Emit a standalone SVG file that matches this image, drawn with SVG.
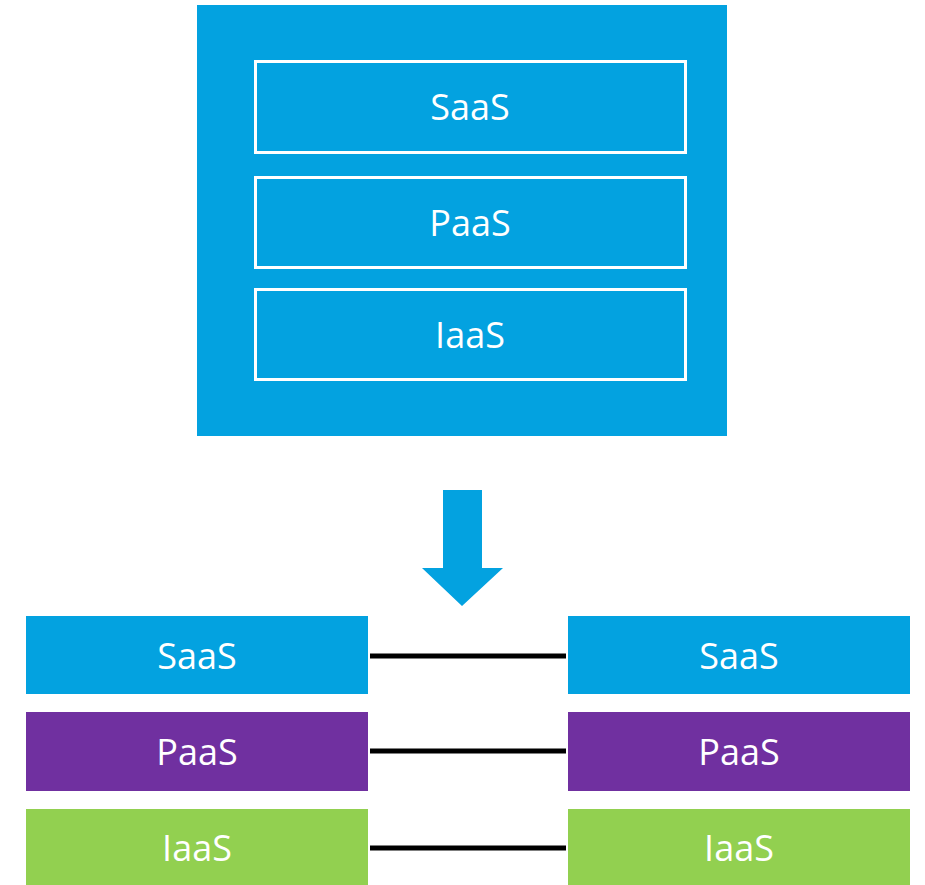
<svg xmlns="http://www.w3.org/2000/svg" width="925" height="885" viewBox="0 0 925 885">
<style>
.lbl{font-family:"Open Sans","Noto Sans",sans-serif;font-size:36px;fill:#fff;text-anchor:middle}
.inner{fill:none;stroke:#fff;stroke-width:3}
.conn{stroke:#000;stroke-width:5}
</style>
<rect width="925" height="885" fill="#fff"/>
<g id="cloud">
<rect x="197" y="5" width="530" height="431" fill="#03A2E0"/>
</g>
<g id="top-saas"><rect class="inner" x="255.5" y="61.5" width="430" height="91"/><text class="lbl" x="470" y="120">SaaS</text></g>
<g id="top-paas"><rect class="inner" x="255.5" y="177.5" width="430" height="90"/><text class="lbl" x="470" y="236">PaaS</text></g>
<g id="top-iaas"><rect class="inner" x="255.5" y="289.5" width="430" height="90"/><text class="lbl" x="470" y="348">IaaS</text></g>
<g id="arrow"><polygon points="443,490 482,490 482,568 503,568 462,606 422,568 443,568" fill="#03A2E0"/></g>
<g id="left-saas"><rect x="26" y="616" width="342" height="78" fill="#03A2E0"/><text class="lbl" x="197" y="669">SaaS</text></g>
<g id="left-paas"><rect x="26" y="712" width="342" height="79" fill="#7030A0"/><text class="lbl" x="197" y="765">PaaS</text></g>
<g id="left-iaas"><rect x="26" y="809" width="342" height="76" fill="#92D050"/><text class="lbl" x="197" y="861">IaaS</text></g>
<g id="right-saas"><rect x="568" y="616" width="342" height="78" fill="#03A2E0"/><text class="lbl" x="739" y="669">SaaS</text></g>
<g id="right-paas"><rect x="568" y="712" width="342" height="79" fill="#7030A0"/><text class="lbl" x="739" y="765">PaaS</text></g>
<g id="right-iaas"><rect x="568" y="809" width="342" height="76" fill="#92D050"/><text class="lbl" x="739" y="861">IaaS</text></g>
<g id="connectors">
<line class="conn" x1="370" y1="656" x2="566" y2="656"/>
<line class="conn" x1="370" y1="751" x2="566" y2="751"/>
<line class="conn" x1="370" y1="848" x2="566" y2="848"/>
</g>
</svg>
